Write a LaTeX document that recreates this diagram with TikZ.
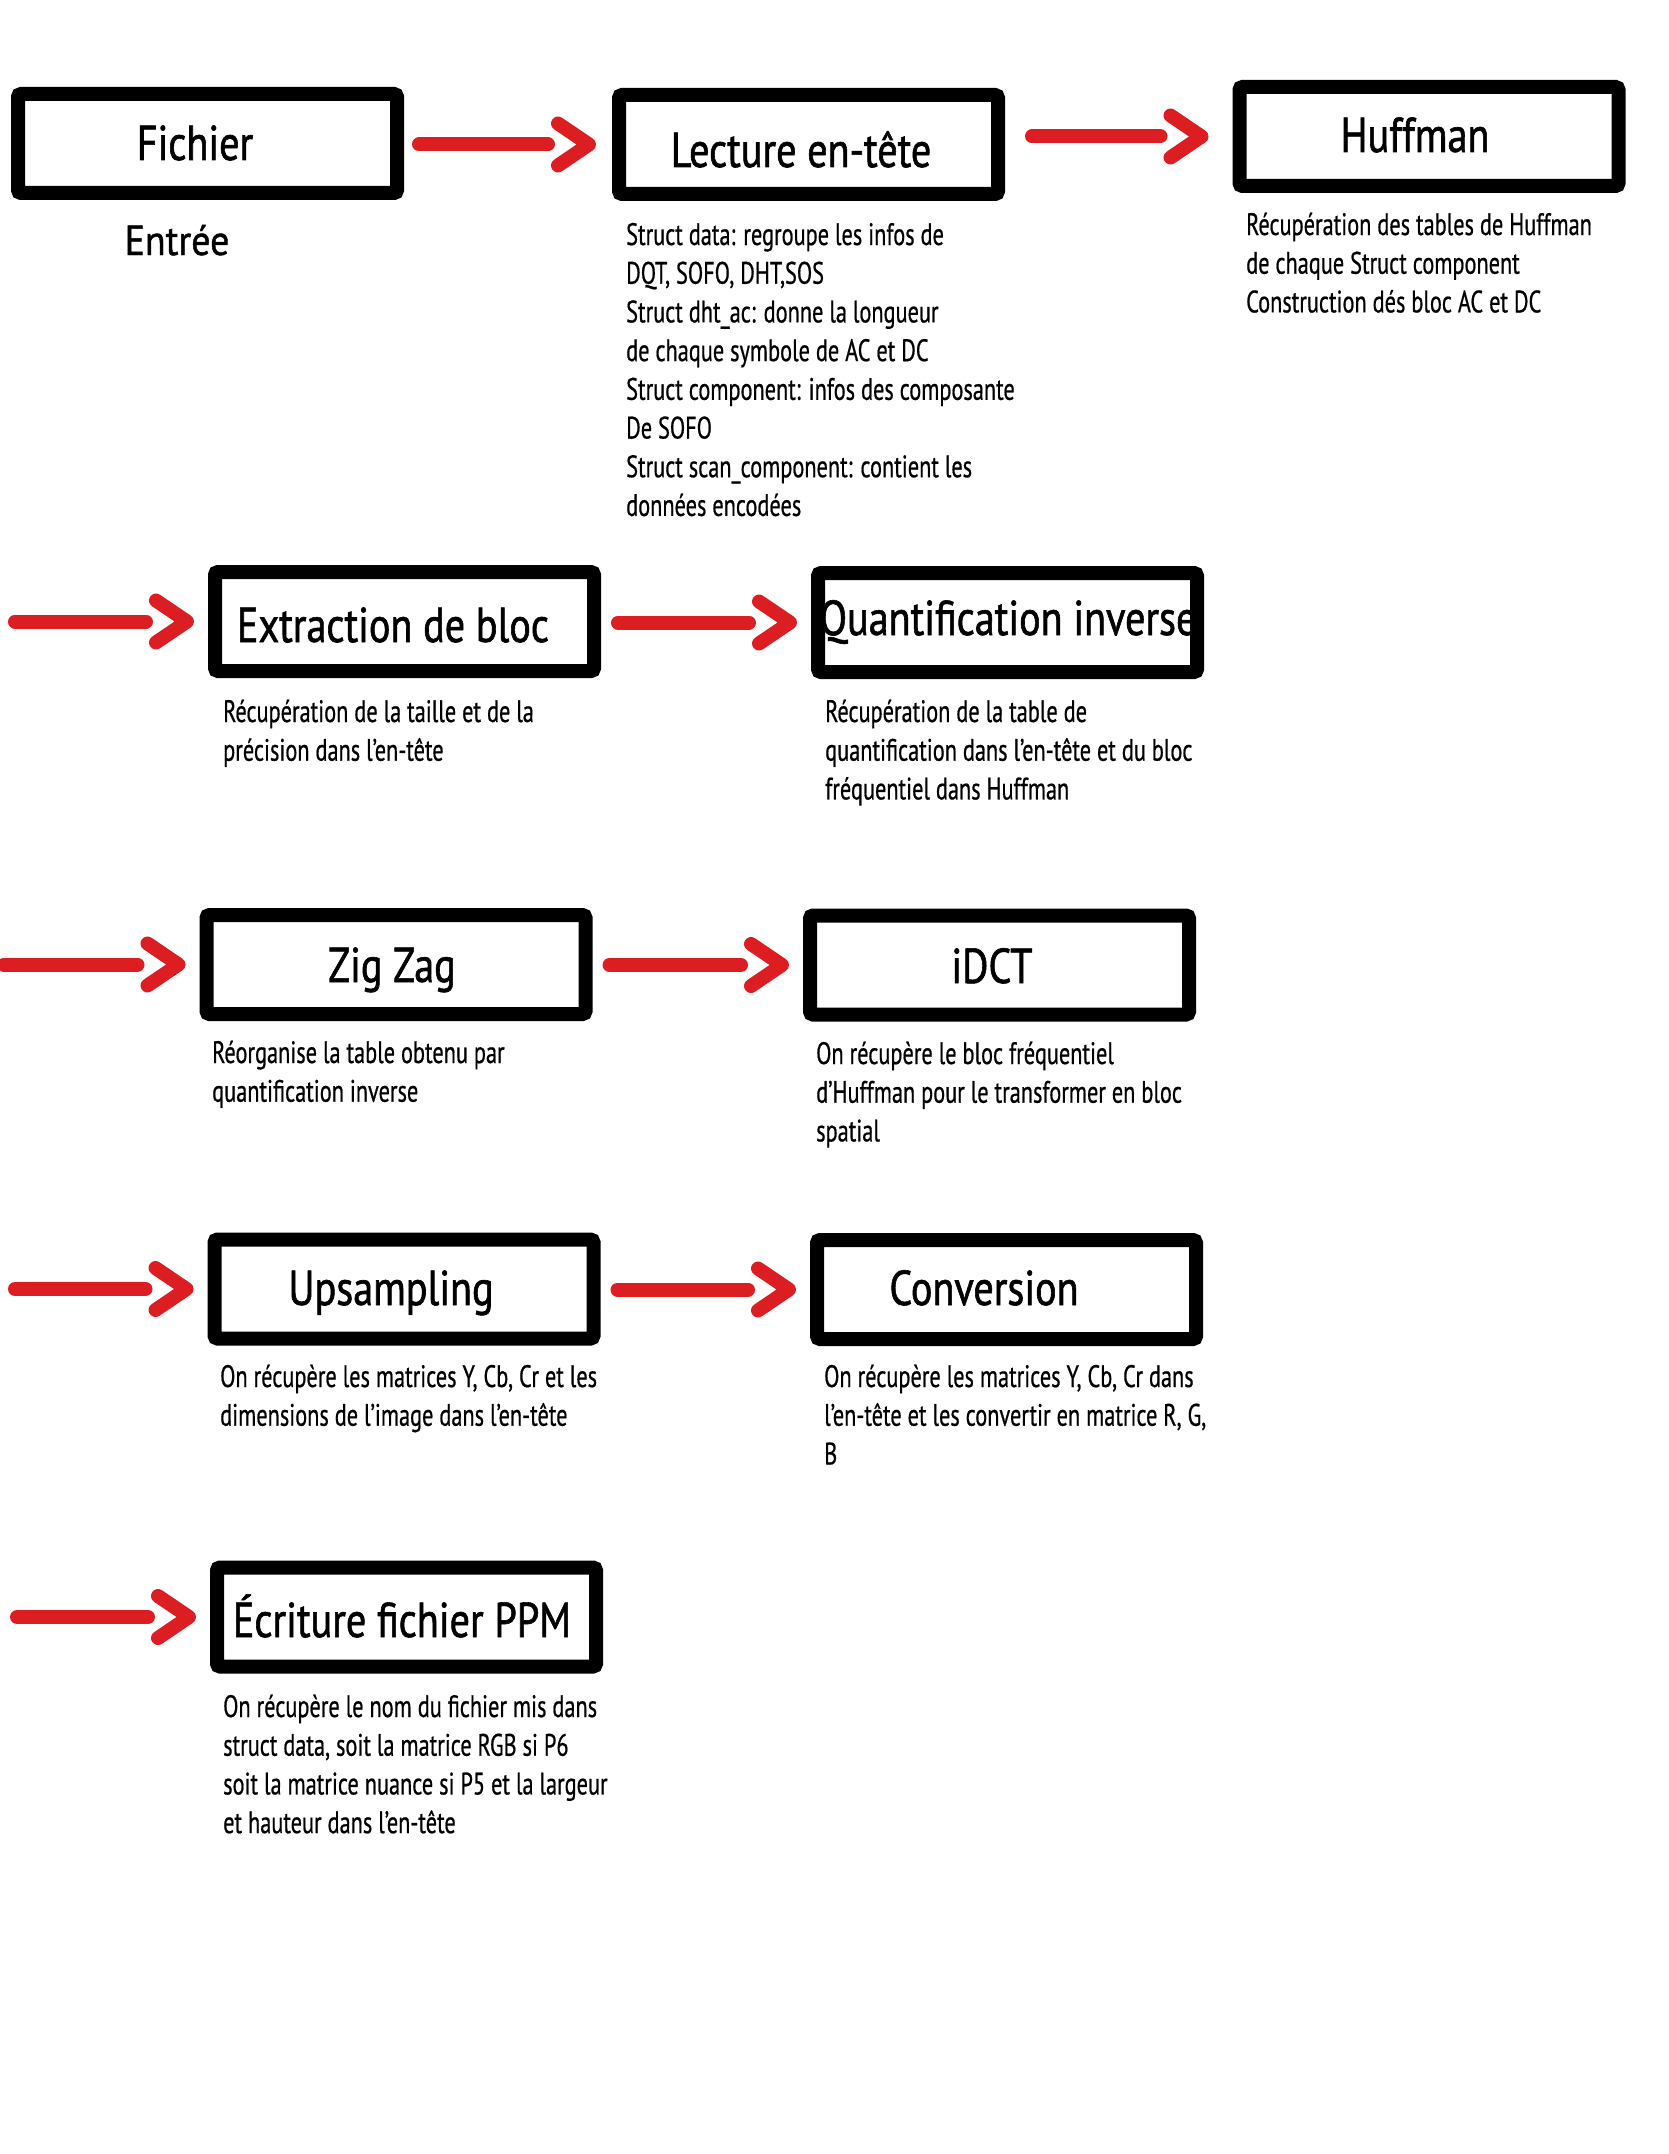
\documentclass[tikz,border=0pt]{standalone}
\usepackage{fontspec}
\setmainfont{PT Sans}[FakeStretch=0.72, FakeBold=0.6]
\newfontfamily\titlefont{PT Sans}[FakeStretch=0.82, FakeBold=1.2]
\newfontfamily\subfont{PT Sans}[FakeStretch=0.9, FakeBold=1.0]
\usetikzlibrary{calc}
\definecolor{arrred}{RGB}{220,30,35}
\tikzset{
  box/.style={draw=black, line width=14pt, rounded corners=3pt, fill=white,
    minimum width=379pt, minimum height=99pt, inner sep=0pt},
  title/.style={anchor=base, inner sep=0pt, font=\titlefont\fontsize{49}{55}\selectfont},
  subtitle/.style={anchor=base, inner sep=0pt, font=\subfont\fontsize{42}{48}\selectfont},
  desc/.style={anchor=base west, inner sep=0pt, font=\fontsize{31}{38.7}\selectfont},
  shaft/.style={draw=arrred, line width=14pt, line cap=round},
  head/.style={draw=arrred, line width=14pt, line cap=round, line join=round},
}
\newcommand\desclines[1]{\parbox[t]{660pt}{\raggedright #1}}
% arrow from node #1 to node #2; #3 start gap, #4 extra shift before target
\newcommand\flow[4]{%
  \draw[shaft] ($(#1.east |- #2.west)+(#3,0)$) -- ($(#2.west)+(-62-#4,0)$);
  \draw[head] ($(#2.west)+(-52-#4,-21)$) -- ($(#2.west)+(-21-#4,0)$) -- ($(#2.west)+(-52-#4,21)$);
}
% arrow from a free coordinate #1 to node #2
\newcommand\inflow[2]{%
  \draw[shaft] (#1 |- #2.west) -- ($(#2.west)+(-62,0)$);
  \draw[head] ($(#2.west)+(-52,-21)$) -- ($(#2.west)+(-21,0)$) -- ($(#2.west)+(-52,21)$);
}
\begin{document}
\begin{tikzpicture}[x=1pt, y=-1pt]
\fill[white] (0,0) rectangle (1668,2154);
\useasboundingbox (0,0) rectangle (1668,2154);

% boxes
\node[box] (fichier)  at (207.5,143.5) {};
\node[box] (lecture)  at (808.5,144.5) {};
\node[box] (huffman)  at (1429,136.5) {};
\node[box] (extract)  at (404.5,621.5) {};
\node[box] (quantif)  at (1007.5,622.5) {};
\node[box] (zigzag)   at (396,964.5) {};
\node[box] (idct)     at (999.5,965) {};
\node[box] (upsamp)   at (404,1289) {};
\node[box] (convers)  at (1006.5,1289.5) {};
\node[box] (ecriture) at (406.5,1617) {};

% titles
\node[title] (tfichier) at (195,160) {Fichier};
\node[subtitle] (tentree) at (177,255) {Entrée};
\node[title] (tlecture) at (801,167) {Lecture en-tête};
\node[title] (thuffman) at (1415,152) {Huffman};
\node[title] (textract) at (393,642) {Extraction de bloc};
\node[title] (tquantif) at (1008,635) {Quantification inverse};
\node[title] (tzigzag)  at (392,982) {Zig Zag};
\node[title] (tidct)    at (992,983) {iDCT};
\node[title] (tupsamp)  at (391,1305) {Upsampling};
\node[title] (tconvers) at (984,1305) {Conversion};
\node[title] (tecrit)   at (402,1637) {Écriture fichier PPM};

% descriptions
\node[desc] (dlecture) at (626,245) {\desclines{Struct data: regroupe les infos de\\
DQT, SOFO, DHT,SOS\\
Struct dht\_ac: donne la longueur\\
de chaque symbole de AC et DC\\
Struct component: infos des composante\\
De SOFO\\
Struct scan\_component: contient les\\
données encodées}};
\node[desc] (dhuffman) at (1246,235) {\desclines{Récupération des tables de Huffman\\
de chaque Struct component\\
Construction dés bloc AC et DC}};
\node[desc] (dextract) at (223,722) {\desclines{Récupération de la taille et de la\\
précision dans l’en-tête}};
\node[desc] (dquantif) at (825,722) {\desclines{Récupération de la table de\\
quantification dans l’en-tête et du bloc\\
fréquentiel dans Huffman}};
\node[desc] (dzigzag) at (212,1063) {\desclines{Réorganise la table obtenu par\\
quantification inverse}};
\node[desc] (didct) at (816,1064) {\desclines{On récupère le bloc fréquentiel\\
d’Huffman pour le transformer en bloc\\
spatial}};
\node[desc] (dupsamp) at (220,1387) {\desclines{On récupère les matrices Y, Cb, Cr et les\\
dimensions de l’image dans l’en-tête}};
\node[desc] (dconvers) at (824,1387) {\desclines{On récupère les matrices Y, Cb, Cr dans\\
l’en-tête et les convertir en matrice R, G,\\
B}};
\node[desc] (decrit) at (223,1717) {\desclines{On récupère le nom du fichier mis dans\\
struct data, soit la matrice RGB si P6\\
soit la matrice nuance si P5 et la largeur\\
et hauteur dans l’en-tête}};

% free ends of incoming arrows
\coordinate (in2) at (15,0);
\coordinate (in3) at (4,0);
\coordinate (in4) at (15,0);
\coordinate (in5) at (17,0);

% arrows
\flow{fichier}{lecture}{15}{2}
\flow{lecture}{huffman}{27}{10}
\inflow{in2}{extract}
\flow{extract}{quantif}{17}{0}
\inflow{in3}{zigzag}
\flow{zigzag}{idct}{17}{0}
\inflow{in4}{upsamp}
\flow{upsamp}{convers}{17}{0}
\inflow{in5}{ecriture}
\end{tikzpicture}
\end{document}
